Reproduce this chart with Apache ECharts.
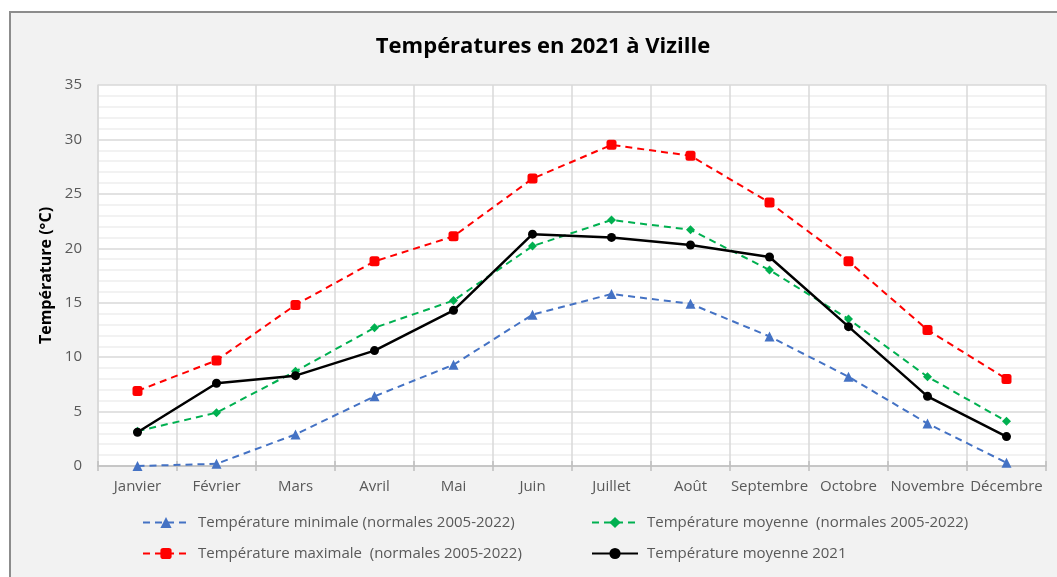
<!DOCTYPE html>
<html>
<head>
<meta charset="utf-8">
<script src="https://cdn.jsdelivr.net/npm/echarts@6/dist/echarts.min.js"></script>
<style>
html,body{margin:0;padding:0;background:#fff;}
#chart{width:1057px;height:577px;}
</style>
</head>
<body>
<div id="chart"></div>
<script>
const months = ['Janvier','Février','Mars','Avril','Mai','Juin','Juillet','Août','Septembre','Octobre','Novembre','Décembre'];
const tMin = [0.0, 0.2, 2.9, 6.4, 9.3, 13.9, 15.8, 14.9, 11.9, 8.2, 3.9, 0.3];
const tMoyNorm = [3.2, 4.9, 8.7, 12.7, 15.2, 20.2, 22.6, 21.7, 18.0, 13.5, 8.2, 4.1];
const tMax = [6.9, 9.7, 14.8, 18.8, 21.1, 26.4, 29.5, 28.5, 24.2, 18.8, 12.5, 8.0];
const tMoy2021 = [3.1, 7.6, 8.3, 10.6, 14.3, 21.3, 21.0, 20.3, 19.2, 12.8, 6.4, 2.7];

const names = {
  min: 'Température minimale (normales 2005-2022)',
  moy: 'Température moyenne  (normales 2005-2022)',
  max: 'Température maximale  (normales 2005-2022)',
  y21: 'Température moyenne 2021'
};

const FONT = 'Open Sans';
const chart = echarts.init(document.getElementById('chart'));
chart.setOption({
  backgroundColor: '#ffffff',
  animation: false,
  graphic: [{
    type: 'rect', z: -100, silent: true,
    shape: { x: 10, y: 12, width: 1080, height: 600 },
    style: { fill: '#f2f2f2', stroke: '#8c8c8c', lineWidth: 2 }
  }],
  title: {
    text: 'Températures en 2021 à Vizille',
    left: 538, textAlign: 'center', top: 31,
    textStyle: { fontFamily: FONT, fontSize: 22, fontWeight: 'bold', color: '#000' }
  },
  grid: {
    left: 98, right: 11, top: 85, bottom: 111,
    show: true, backgroundColor: '#ffffff', borderWidth: 0
  },
  legend: [
    {
      orient: 'vertical', left: 142, top: 515, itemGap: 16, padding: 0,
      itemWidth: 46, itemHeight: 14,
      data: [names.min, names.max],
      textStyle: { fontFamily: FONT, fontSize: 15, color: '#595959', padding: [0,0,0,4] }
    },
    {
      orient: 'vertical', left: 591, top: 515, itemGap: 16, padding: 0,
      itemWidth: 46, itemHeight: 14,
      data: [names.moy, names.y21],
      textStyle: { fontFamily: FONT, fontSize: 15, color: '#595959', padding: [0,0,0,4] }
    }
  ],
  xAxis: [
    {
      type: 'category', data: months, boundaryGap: true,
      axisLine: { lineStyle: { color: '#bfbfbf', width: 1.5 } },
      axisTick: { show: true, interval: 0, length: 5, lineStyle: { color: '#bfbfbf', width: 1.5 } },
      axisLabel: { interval: 0, margin: 13, fontFamily: FONT, fontSize: 15, color: '#595959' },
      splitLine: { show: true, interval: 0, lineStyle: { color: '#d9d9d9', width: 1.5 } }
    },
    {
      type: 'category', data: months, boundaryGap: true, position: 'bottom',
      axisLine: { show: false },
      axisTick: { show: true, inside: true, interval: 0, length: 5, lineStyle: { color: '#bfbfbf', width: 1.5 } },
      axisLabel: { show: false },
      splitLine: { show: false }
    }
  ],
  yAxis: {
    type: 'value', min: 0, max: 35, interval: 5,
    name: 'Température (°C)', nameLocation: 'middle', nameGap: 44, nameRotate: 90,
    nameTextStyle: { fontFamily: FONT, fontSize: 16, fontWeight: 'bold', color: '#000' },
    axisLine: { show: true, lineStyle: { color: '#d9d9d9', width: 1.5 } },
    axisTick: { show: false },
    axisLabel: { margin: 16, fontFamily: FONT, fontSize: 15, color: '#595959' },
    splitLine: { show: true, lineStyle: { color: '#d9d9d9', width: 1.5 } },
    minorTick: { show: false, splitNumber: 5 },
    minorSplitLine: { show: true, lineStyle: { color: '#eeeeee', width: 1.5 } }
  },
  series: [
    {
      name: names.min, type: 'line', data: tMin,
      symbol: 'triangle', symbolSize: 10,
      itemStyle: { color: '#4472c4' },
      lineStyle: { color: '#4472c4', width: 2, type: [7, 5] }
    },
    {
      name: names.moy, type: 'line', data: tMoyNorm,
      symbol: 'diamond', symbolSize: 9,
      itemStyle: { color: '#00b050' },
      lineStyle: { color: '#00b050', width: 2, type: [7, 5] }
    },
    {
      name: names.max, type: 'line', data: tMax,
      symbol: 'roundRect', symbolSize: 10,
      itemStyle: { color: '#ff0000' },
      lineStyle: { color: '#ff0000', width: 2, type: [7, 5] }
    },
    {
      name: names.y21, type: 'line', data: tMoy2021,
      symbol: 'circle', symbolSize: 9,
      itemStyle: { color: '#000000' },
      lineStyle: { color: '#000000', width: 2.5, type: 'solid' }
    }
  ]
});
</script>
</body>
</html>
